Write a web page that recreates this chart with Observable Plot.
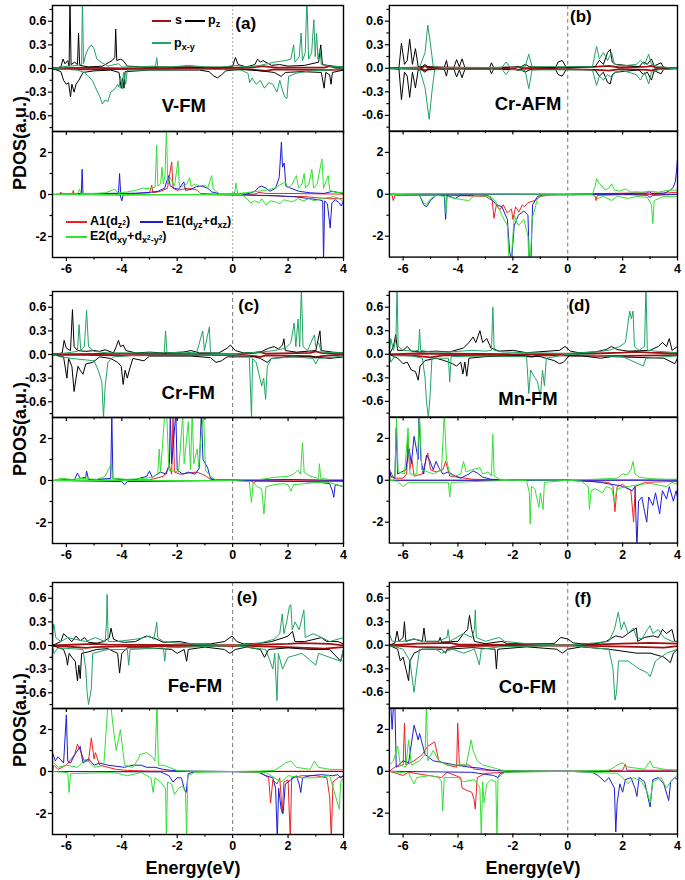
<!DOCTYPE html>
<html><head><meta charset="utf-8">
<script src="https://cdn.jsdelivr.net/npm/d3@7"></script>
<script src="https://cdn.jsdelivr.net/npm/@observablehq/plot@0.6"></script>
<style>
body{margin:0;background:#fff;font-family:"Liberation Sans",Arial,sans-serif;}
#fig{position:relative;width:685px;height:880px;overflow:hidden;background:#fff}
.sp{position:absolute;}
.sp svg{overflow:visible;}
sub{font-size:72%;vertical-align:-0.35em;line-height:0}
sup{font-size:72%;line-height:0;vertical-align:0.45em}
</style></head><body><div id="fig"></div><script>
// ---------------- data (energy, value pairs; up spin > 0, down spin < 0) ----------------
const a_s_up=[-6.5,0,-5.2,.01,-4,0,-1,.01,.6,.01,.9,.02,1.1,.03,1.3,.02,1.6,.01,3.3,.01,3.5,.03,3.7,.01,4,0];
const a_s_dn=[-6.5,0,-5.5,-.01,-1,0,.6,-.01,.9,-.02,1.2,-.03,1.5,-.01,3.4,-.02,4,-.01];
const a_pz_up=[-6.5,0,-6.2,.02,-6.12,.12,-6.05,.06,-5.95,.1,-5.9,.03,-5.87,.9,-5.83,.05,-5.7,.08,-5.6,.05,-5.56,.45,-5.52,.04,-5.2,.02,-4.7,.03,-4.35,.1,-4.25,.14,-4.22,.5,-4.18,.1,-4.05,.12,-3.95,.1,-3.8,.03,-3.2,.02,-2.5,.02,-1.5,.02,-.5,.01,0,.03,.1,.14,.2,.05,.5,.02,.8,.05,.9,.12,1,.08,1.1,.1,1.25,.07,1.4,.04,1.7,.05,2,.03,2.6,.04,3.1,.08,3.18,.3,3.24,.05,3.6,.03,4,.02];
const a_pz_dn=[-6.5,0,-6.2,-.04,-6.1,-.15,-6,-.2,-5.92,-.18,-5.85,-.36,-5.8,-.2,-5.72,-.3,-5.65,-.2,-5.55,-.15,-5.4,-.05,-5,-.03,-4.4,-.02,-4.1,-.05,-4.02,-.25,-3.97,-.12,-3.92,-.25,-3.88,-.04,-3,-.02,-1.2,-.02,-.85,-.04,-.7,-.09,-.55,-.12,-.4,-.08,-.25,-.03,.3,-.01,1,-.03,1.5,-.05,1.75,-.1,1.9,-.05,2.5,-.04,3.2,-.05,3.3,-.25,3.36,-.05,3.5,-.08,3.55,-.2,3.6,-.05,4,-.02];
const a_pxy_up=[-6.5,0,-6.2,.02,-5.6,.04,-5.45,.05,-5.42,.9,-5.38,.06,-5.3,.18,-5.2,.26,-5.1,.3,-5,.25,-4.9,.12,-4.75,.08,-4.5,.03,-4.12,.06,-4,.02,-3.5,.02,-2.78,.03,-2.74,.14,-2.7,.02,-2.2,.02,-1.6,.04,-1,.02,-.3,.02,.1,.04,.5,.02,1,.04,1.5,.08,1.9,.1,2.1,.12,2.2,.3,2.25,.08,2.4,.15,2.47,.45,2.52,.1,2.62,.2,2.68,.9,2.74,.12,2.85,.2,2.93,.62,2.98,.15,3.03,.45,3.08,.12,3.15,.25,3.2,.05,3.5,.03,4,.02];
const a_pxy_dn=[-6.5,0,-5.6,-.02,-5.35,-.05,-5.2,-.1,-5.05,-.16,-4.9,-.28,-4.8,-.35,-4.7,-.45,-4.6,-.4,-4.5,-.42,-4.4,-.3,-4.25,-.26,-4.15,-.2,-4.1,-.24,-4.05,-.1,-3.98,-.26,-3.94,-.05,-3.86,-.2,-3.8,-.02,-2.5,-.02,-1,-.01,.3,-.02,.55,-.06,.62,-.18,.7,-.12,.85,-.2,1,-.15,1.15,-.25,1.3,-.18,1.45,-.2,1.6,-.3,1.7,-.15,1.8,-.28,1.88,-.36,1.96,-.38,2.02,-.1,2.3,-.06,2.8,-.03,3.5,-.02,4,0];
const a_A1_up=[-6.5,0,-6.22,.02,-6.2,.12,-6.17,.02,-5.78,.02,-5.75,.2,-5.72,.02,-4.5,.03,-3.5,.05,-3,.08,-2.92,.45,-2.88,.08,-2.6,.15,-2.35,.3,-2.2,1.55,-2.15,.3,-2,.2,-1.8,.25,-1.6,.3,-1.4,.25,-1.27,.2,-1.15,.05,-.5,.01,.8,.02,.95,.1,1.2,.05,2,.05,3,.03,4,.02];
const a_A1_dn=[-6.5,0,-3,0,.5,-.02,1,-.05,1.6,-.06,2,-.1,2.6,-.1,3,-.15,3.5,-.2,4,-.2];
const a_E1_up=[-6.5,0,-5.6,.04,-5.46,.05,-5.43,1.2,-5.4,.05,-4.6,.05,-4.12,.06,-4.08,1,-4.04,.05,-3.5,.06,-3,.1,-2.7,.15,-2.45,.3,-2.32,.9,-2.25,.4,-2.1,.3,-1.95,.25,-1.76,.6,-1.7,.2,-1.5,.25,-1.3,.38,-1.1,.4,-.9,.3,-.75,.12,-.4,.02,.5,.02,.8,.15,.95,.35,1.05,.4,1.2,.3,1.35,.15,1.55,.3,1.68,.8,1.76,2.5,1.8,1.3,1.86,1.5,1.92,.4,2.1,.3,2.4,.15,2.8,.08,3.3,.05,3.6,.15,3.8,.1,4,.05];
const a_E1_dn=[-6.5,0,-4.06,-.02,-4,-.3,-3.95,-.02,-1,0,.8,-.03,1.5,-.06,2.2,-.1,2.8,-.2,3.1,-.25,3.25,-.3,3.28,-3.2,3.32,-.3,3.42,-.45,3.52,-1.6,3.58,-.4,3.7,-.25,3.85,-.4,3.92,-.55,4,-.3];
const a_E2_up=[-6.5,0,-5.6,.04,-5.52,.25,-5.48,.04,-4.95,.05,-4.6,.08,-4.25,.25,-4.15,.08,-3.8,.12,-3.5,.2,-3.25,.3,-3,.28,-2.8,.35,-2.74,2.35,-2.7,.4,-2.6,.5,-2.55,1.3,-2.5,.5,-2.44,.9,-2.39,3.2,-2.34,.5,-2.25,.8,-2.1,.4,-1.97,1.6,-1.92,.3,-1.8,.4,-1.65,.5,-1.55,.8,-1.5,.4,-1.35,.5,-1.2,.4,-1,.45,-.9,.3,-.76,.9,-.7,.25,-.5,.05,-.1,.02,.08,.1,.12,.55,.18,.05,.6,.1,.9,.15,1.2,.2,1.5,.3,1.7,.45,1.9,.6,2,.3,2.15,.5,2.3,.9,2.38,.3,2.5,.5,2.58,1,2.63,.3,2.75,.5,2.86,1.2,2.92,.3,3.05,.5,3.22,1.7,3.28,.3,3.45,.9,3.5,.2,3.7,.1,4,.1];
const a_E2_dn=[-6.5,0,.35,0,.55,-.25,.65,-.4,.8,-.3,.95,-.4,1.05,-.2,1.2,-.5,1.35,-.3,1.55,-.35,1.7,-.45,1.85,-.25,2,-.3,2.15,-.35,2.35,-.2,2.55,-.3,2.75,-.2,2.95,-.3,3.2,-.2,3.45,-.15,3.65,-.1,3.85,-.2,4,-.35];

const b_s_up=[-6.5,0,-5.3,.01,-5.2,.03,-5.1,.01,-2,0,-1.8,.02,-1.6,0,1.1,.02,1.5,.03,1.9,.01,2.9,.02,3.05,.03,3.2,.01,4,0];
const b_s_dn=[-6.5,0,-5.3,-.01,-5.2,-.03,-5.1,-.01,-2,0,-1.8,-.02,-1.6,0,1.1,-.02,1.5,-.03,1.9,-.01,2.9,-.02,3.05,-.03,3.2,-.01,4,0];
const b_pz_up=[-6.5,0,-6.15,.01,-6.06,.32,-5.95,.05,-5.85,.1,-5.76,.37,-5.66,.05,-5.55,.25,-5.45,.02,-5.3,.02,-5.22,.05,-5.1,.02,-4.5,.01,-4.42,.1,-4.37,.01,-4.15,.01,-4.05,.11,-3.95,.02,-3.85,.12,-3.75,.01,-2.85,.01,-2.78,.07,-2.7,.01,-1.7,.02,-1.55,.05,-1.4,.02,-.45,.01,-.35,.08,-.2,.1,-.05,.01,1,.02,1.15,.1,1.3,.05,1.45,.2,1.55,.24,1.62,.08,1.75,.05,2.6,.02,2.75,.08,2.9,.05,3.05,.12,3.15,.03,3.4,.07,3.5,.01,4,0];
const b_pz_dn=[-6.5,0,-6.15,-.01,-6.06,-.4,-5.95,-.05,-5.85,-.1,-5.76,-.37,-5.66,-.05,-5.55,-.25,-5.45,-.02,-5.3,-.02,-5.22,-.05,-5.1,-.02,-4.5,-.01,-4.42,-.1,-4.37,-.01,-4.15,-.01,-4.05,-.11,-3.95,-.02,-3.85,-.12,-3.75,-.01,-2.85,-.01,-2.78,-.07,-2.7,-.01,-1.7,-.02,-1.55,-.05,-1.4,-.02,-.45,-.01,-.35,-.08,-.2,-.1,-.05,-.01,1,-.02,1.15,-.1,1.3,-.05,1.45,-.18,1.55,-.2,1.62,-.08,1.75,-.05,2.6,-.02,2.75,-.08,2.9,-.05,3.05,-.15,3.15,-.03,3.4,-.07,3.5,-.01,4,0];
const b_pxy_up=[-6.5,0,-5.4,.01,-5.2,.2,-5.1,.55,-5,.3,-4.9,.02,-4.6,.01,-2.4,.01,-2.25,.08,-2.1,.01,-1.55,.02,-1.42,.18,-1.3,.02,.9,.02,1.05,.28,1.15,.12,1.3,.2,1.45,.1,1.6,.2,1.7,.05,2,.03,2.5,.05,2.65,.1,2.8,.05,2.95,.18,3.05,.05,3.3,.02,4,0];
const b_pxy_dn=[-6.5,0,-5.4,-.01,-5.2,-.25,-5.05,-.65,-4.95,-.3,-4.85,-.02,-4.6,-.01,-2.4,-.01,-2.25,-.08,-2.1,-.01,-1.55,-.03,-1.42,-.26,-1.3,-.02,.9,-.02,1.05,-.22,1.15,-.1,1.3,-.15,1.45,-.08,1.6,-.12,1.7,-.05,2,-.03,2.5,-.08,2.65,-.15,2.8,-.05,2.95,-.2,3.05,-.05,3.3,-.02,4,0];
const b_A1_up=[-6.5,0,-4,.02,0,0,1.5,.04,2.5,.06,3.5,.05,4,.1];
const b_A1_dn=[-6.5,0,-6.4,-.05,-6.36,-.3,-6.3,-.05,-5.8,-.05,-5,-.05,-4.3,-.05,-3,-.1,-2.75,-.3,-2.69,-1.15,-2.6,-.5,-2.48,-.75,-2.35,-.5,-2.2,-.9,-2.05,-.7,-2,-1.2,-1.9,-.6,-1.78,-.85,-1.65,-.5,-1.58,-.6,-1.45,-.4,-1.2,-.3,-1,-.1,-.5,-.02,.9,-.02,1,-.1,1.03,-.3,1.08,-.05,2,-.02,4,0];
const b_E1_up=[-6.5,0,-2,0,0,0,1,.02,2,.03,2.9,.05,2.97,.15,3.05,.03,3.5,.05,3.6,.1,3.75,.2,3.85,.35,3.92,.6,3.97,1.2,4,1.7];
const b_E1_dn=[-6.5,0,-5.4,-.05,-5.25,-.5,-5.15,-.6,-5,-.3,-4.8,-.05,-4.5,-.05,-4.45,-1.2,-4.4,-.05,-4.1,-.2,-3.9,-.05,-2.9,-.05,-2.6,-.5,-2.4,-.6,-2.2,-1.2,-2.12,-2.7,-2.05,-3.2,-1.95,-1.5,-1.8,-1,-1.6,-.8,-1.45,-1,-1.4,-3.2,-1.34,-3.2,-1.28,-.5,-1.1,-.1,-.8,-.02,2,0,2.9,-.05,3,-.15,3.1,-.05,4,0];
const b_E2_up=[-6.5,0,-4,.02,0,0,.9,.02,1,.4,1.05,.75,1.15,.5,1.25,.4,1.35,.2,1.5,.3,1.6,.5,1.7,.2,1.9,.15,2.1,.25,2.3,.1,2.5,.12,2.7,.1,3,.15,3.3,.1,3.6,.18,3.8,.2,4,.2];
const b_E2_dn=[-6.5,0,-5.4,-.05,-5.25,-.4,-5.15,-.5,-5,-.2,-4.8,-.05,-4.48,-.1,-4.44,-.9,-4.4,-.1,-4.1,-.2,-3.9,-.25,-3.6,-.3,-3.4,-.05,-2.8,-.1,-2.6,-.4,-2.4,-1,-2.2,-1.5,-2.14,-3.2,-2.06,-3.2,-1.95,-1,-1.8,-1.5,-1.6,-1.2,-1.45,-2,-1.42,-3.2,-1.36,-3.2,-1.3,-1.2,-1.1,-.2,-.9,-.05,.9,-.02,1.1,-.2,1.3,-.1,1.6,-.3,1.8,-.1,2.2,-.2,2.5,-.1,2.9,-.15,3.05,-.5,3.1,-1.4,3.15,-.3,3.5,-.1,4,-.1];

const c_s_up=[-6.5,0,-4,.01,0,0,.8,.02,1,.03,1.2,.01,2.8,.02,3,.04,3.2,.02,4,0];
const c_s_dn=[-6.5,0,-4,-.01,0,0,.8,-.02,1,-.03,1.2,-.01,2.8,-.02,3,-.04,3.2,-.02,4,0];
const c_pz_up=[-6.5,0,-6.15,.02,-6.08,.18,-6,.08,-5.85,.05,-5.78,.57,-5.72,.1,-5.6,.05,-5.3,.04,-5,.05,-4.8,.04,-4.6,.06,-4.3,.02,-4.2,.1,-4.12,.18,-4.05,.1,-3.95,.12,-3.85,.05,-3.5,.02,-3,.03,-2.5,.02,-1.8,.03,-1.5,.05,-1.2,.02,-.5,.02,-.2,.08,-.08,.12,.1,.05,.4,.02,1,.03,1.3,.08,1.5,.1,1.65,.07,1.8,.12,1.85,.2,1.9,.05,2.3,.03,3,.05,3.15,.3,3.2,.05,3.6,.03,4,.02];
const c_pz_dn=[-6.5,0,-6.1,-.03,-5.98,-.3,-5.92,-.05,-5.8,-.15,-5.72,-.47,-5.65,-.3,-5.58,-.15,-5.5,-.2,-5.4,-.25,-5.3,-.12,-5.05,-.1,-4.8,-.03,-4.4,-.05,-4.15,-.1,-4.02,-.15,-3.95,-.38,-3.88,-.2,-3.8,-.3,-3.73,-.2,-3.6,-.05,-3.2,-.08,-3,-.02,-1.5,-.02,-.8,-.04,-.6,-.1,-.4,-.08,-.2,-.03,.8,-.03,1,-.05,1.25,-.1,1.4,-.05,2,-.03,3,-.03,3.5,-.05,4,-.03];
const c_pxy_up=[-6.5,0,-6,.02,-5.6,.04,-5.54,.38,-5.48,.05,-5.35,.1,-5.27,.56,-5.2,.1,-5,.04,-4.5,.02,-3.5,.02,-2.47,.02,-2.42,.3,-2.37,.02,-1.8,.03,-1.3,.02,-1.08,.3,-1.02,.05,-.84,.35,-.8,.02,0,.01,1,.03,1.5,.05,1.9,.08,2.1,.15,2.22,.4,2.28,.1,2.36,.45,2.42,.1,2.48,.85,2.54,.1,2.7,.05,2.95,.25,3,.1,3.1,.15,3.2,.03,4,.02];
const c_pxy_dn=[-6.5,0,-6.2,-.03,-5.8,-.05,-5,-.08,-4.85,-.2,-4.72,-.35,-4.66,-.8,-4.6,-.4,-4.5,-.1,-4.3,-.03,-3.5,-.01,0,0,.6,-.02,.68,-.8,.72,-.05,.85,-.1,.95,-.25,1.05,-.4,1.12,-.3,1.19,-.57,1.25,-.15,1.4,-.05,2.2,-.03,2.9,-.05,3,-.12,3.1,-.05,4,-.02];
const c_A1_up=[-6.5,0,-6.1,.02,-6.05,.1,-6,.02,-5.5,.02,-4.5,.02,-3,.03,-2.5,.2,-2.35,.5,-2.28,.7,-2.2,.3,-2.15,3.2,-2.1,.4,-1.9,.3,-1.6,.35,-1.3,.4,-1.1,.3,-.95,.2,-.8,.05,0,.02,2,.02,4,0];
const c_A1_dn=[-6.5,0,0,0,.7,-.02,.75,-.12,.85,-.03,2,-.03,3.5,-.05,4,-.05];
const c_E1_up=[-6.5,0,-5.7,.05,-5.6,.35,-5.5,.1,-5.3,.15,-5.27,.45,-5.2,.05,-4.9,.05,-4.4,.1,-4.36,3.2,-4.32,.1,-4,.05,-3.5,.05,-3.1,.2,-3,.45,-2.9,.15,-2.6,.4,-2.4,.3,-2.28,.8,-2.25,3.2,-2.2,.8,-2.05,3.2,-2,.5,-1.8,.3,-1.6,.4,-1.35,.3,-1.2,.6,-1.13,3.2,-1.07,1,-.9,.6,-.8,.1,-.6,.02,0,.05,.4,.01,2,.05,4,0];
const c_E1_dn=[-6.5,0,-4,-.05,-3.9,-.2,-3.8,-.05,0,0,2.5,-.05,3.1,-.08,3.5,-.15,3.6,-.5,3.65,-.8,3.7,-.2,3.9,-.25,4,-.3];
const c_E2_up=[-6.5,0,-6.2,.1,-5.8,.05,-5.4,.1,-4.9,.05,-4.6,.2,-4.38,.8,-4.33,.1,-3.8,.05,-3.2,.1,-2.9,.15,-2.7,.3,-2.65,1.5,-2.6,.4,-2.45,3.2,-2.38,3.2,-2.3,.5,-1.95,.4,-1.8,3.2,-1.75,.8,-1.6,2.8,-1.52,.5,-1.46,3.2,-1.4,.8,-1.28,1.5,-1.22,.6,-1.15,2,-1.05,3.2,-.98,.5,-.8,.2,-.6,.02,1,.05,1.5,.15,2,.2,2.2,.3,2.35,.5,2.45,.3,2.52,1.8,2.58,.4,2.8,.2,3.1,.1,3.13,.8,3.18,.1,3.5,.05,4,.05];
const c_E2_dn=[-6.5,0,0,0,.6,-.05,.68,-1.05,.74,-.1,.9,-.3,1.05,-.4,1.13,-1.6,1.2,-.3,1.5,-.2,1.8,-.15,2,-.2,2.1,-.5,2.2,-.2,2.6,-.15,3,-.1,3.5,-.1,4,-.3];

const d_s_up=[-6.5,0,-5.5,.01,-2,0,1,.01,2,.02,2.5,.03,3,.02,4,.01];
const d_s_dn=[-6.5,0,-5.5,-.02,-5,-.04,-4.5,-.01,-1.6,-.02,-1.3,-.03,-1,-.01,1,-.02,2,-.02,4,-.01];
const d_pz_up=[-6.5,0,-6.35,.1,-6.27,.25,-6.2,.05,-6,.05,-5.85,.1,-5.7,.04,-5.4,.03,-4.8,.04,-4.3,.03,-3.8,.08,-3.6,.15,-3.45,.22,-3.35,.15,-3.2,.3,-3.1,.15,-2.95,.2,-2.8,.08,-2.5,.04,-2,.05,-1.5,.02,-.3,.05,-.1,.1,.1,.04,.4,.02,1,.03,1.4,.06,1.6,.1,1.8,.06,2.2,.04,3,.05,3.3,.1,3.45,.15,3.6,.1,3.7,.2,3.8,.05,4,.1];
const d_pz_dn=[-6.5,0,-6.2,-.05,-6,-.12,-5.85,-.1,-5.7,-.2,-5.55,-.22,-5.45,-.33,-5.38,-.15,-5.2,-.08,-4.8,-.05,-4.5,-.08,-4.2,-.12,-4.05,-.15,-3.9,-.1,-3.82,-.25,-3.75,-.1,-3.68,-.28,-3.6,-.05,-3,-.03,-2,-.02,-1,-.03,-.5,-.08,-.3,-.12,-.15,-.1,.05,-.02,.5,-.02,1.2,-.05,1.6,-.03,2.5,-.04,3.5,-.05,3.9,-.12,4,-.05];
const d_pxy_up=[-6.5,0,-6.45,.2,-6.35,.05,-6.26,.2,-6.22,.85,-6.18,.1,-6,.05,-5.6,.04,-5.44,.05,-5.4,.32,-5.36,.05,-5,.03,-4.3,.03,-3.5,.05,-3,.04,-2.78,.05,-2.73,.6,-2.68,.05,-2.4,.03,-1.5,.02,0,.01,1,.03,1.5,.05,1.9,.1,2.1,.15,2.26,.55,2.32,.45,2.38,.55,2.43,.1,2.6,.05,2.8,.1,2.85,.9,2.9,.05,3.2,.04,4,.02];
const d_pxy_dn=[-6.5,0,-6.45,-.1,-6.3,-.02,-5.7,-.02,-5.3,-.05,-5.2,-.3,-5.15,-.6,-5.08,-.8,-5.02,-.55,-4.95,-.05,-4.35,-.05,-4.3,-.35,-4.25,-.03,-3,-.02,-1.5,-.03,-1.42,-.5,-1.35,-.2,-1.2,-.3,-1.1,-.35,-1,-.55,-.92,-.2,-.85,-.4,-.78,-.05,0,0,2,-.03,2.75,-.15,2.85,-.05,4,-.02];
const d_A1_up=[-6.5,0,-6.45,.4,-6.35,.1,-6,.1,-5.87,.3,-5.82,2.1,-5.76,.5,-5.68,1,-5.6,.2,-5.3,.3,-5.1,1.3,-5,.5,-4.8,.4,-4.55,.5,-4.45,.9,-4.3,.2,-4,.15,-3.5,.05,-2.5,.02,0,.01,4,.02];
const d_A1_dn=[-6.5,0,0,0,.8,-.05,1.5,-.1,1.65,-.3,1.72,-1.5,1.8,-.3,2,-.2,2.3,-.5,2.4,-2,2.46,-.3,2.8,-.1,4,-.05];
const d_E1_up=[-6.5,.6,-6.45,.2,-6.3,.1,-6.25,2.5,-6.2,.3,-5.9,.5,-5.78,1.5,-5.7,.8,-5.6,2.1,-5.45,1,-5.42,3.2,-5.35,1,-5.25,.3,-5.15,1.2,-5.05,1,-4.9,.5,-4.8,.9,-4.7,.6,-4.55,.3,-4.35,.4,-4.1,.2,-3.9,.1,-3.6,.3,-3.45,.45,-3.3,.35,-3.1,.15,-2.8,.05,-2.4,.02,-1.5,0,0,0,4,0];
const d_E1_dn=[-6.5,0,0,0,.8,-.05,1.2,-.1,1.6,-.2,1.9,-.25,2,-.3,2.2,-.4,2.35,-.5,2.45,-.3,2.52,-3.2,2.58,-1,2.7,-.8,2.8,-1.5,2.88,-2,2.95,-.8,3.1,-1.2,3.2,-.6,3.35,-1.6,3.45,-.5,3.6,-.9,3.7,-.3,3.85,-1,3.95,-.5,4,-.8];
const d_E2_up=[-6.5,.1,-6.3,.2,-6.24,3,-6.18,.4,-5.95,.3,-5.82,2.5,-5.75,.3,-5.5,.3,-5.4,3.2,-5.32,.5,-5.1,.4,-4.9,.3,-4.6,.5,-4.5,3.2,-4.42,1,-4.3,.3,-4.1,.2,-3.9,.3,-3.8,.9,-3.7,.4,-3.5,.5,-3.2,.6,-3.1,.3,-2.9,.4,-2.78,.2,-2.73,2.2,-2.68,.2,-2.5,.05,-2,.02,0,0,1,.05,1.8,.1,2,.3,2.15,.25,2.3,.5,2.38,.9,2.45,.3,2.6,.15,3,.08,3.5,.05,4,.05];
const d_E2_dn=[-6.5,0,-6.2,-.05,-6,-.3,-5.8,-.1,-4.35,-.1,-4.3,-.8,-4.25,-.1,-2,0,-1.5,-.02,-1.4,-.6,-1.37,-2.1,-1.32,-.3,-1.2,-.4,-1.05,-1.3,-1,-.6,-.9,-1.4,-.85,-.1,0,0,.5,-.05,.75,-.3,.79,-1.4,.85,-.5,1,-.4,1.27,-.6,1.4,-.3,1.6,-.4,1.7,-1,1.8,-.4,2.2,-.3,2.6,-.2,3,-.15,3.6,-.3,3.8,-.1,4,-.2];

const e_s_up=[-6.5,0,-5,.02,-4.5,.01,0,0,2,.02,2.5,.03,3.5,.02,4,0];
const e_s_dn=[-6.5,0,-5.3,-.03,-5,-.02,-4,-.01,0,0,2,-.02,3.3,-.04,4,-.02];
const e_pz_up=[-6.5,0,-6.2,.05,-6.1,.15,-5.95,.1,-5.8,.05,-5.65,.12,-5.5,.06,-5.35,.1,-5.2,.04,-4.9,.03,-4.65,.05,-4.45,.1,-4.39,.22,-4.3,.08,-4.1,.05,-3.9,.04,-3.5,.05,-3.25,.1,-3.11,.12,-2.9,.1,-2.75,.08,-2.5,.04,-1.9,.05,-1.5,.02,-.8,.02,-.3,.05,-.02,.12,.15,.05,.4,.02,1,.03,1.4,.05,1.85,.1,2,.12,2.16,.18,2.25,.05,2.6,.05,3.2,.1,3.4,.05,3.8,.05,4,.02];
const e_pz_dn=[-6.5,0,-6.1,-.05,-6,-.15,-5.96,-.25,-5.9,-.1,-5.8,-.15,-5.68,-.2,-5.6,-.45,-5.55,-.25,-5.5,-.42,-5.45,-.1,-5.2,-.08,-4.9,-.05,-4.5,-.04,-4.15,-.1,-4.08,-.35,-4,-.1,-3.8,-.03,-3,-.03,-2.2,-.05,-2,-.1,-1.75,-.05,-1.66,-.2,-1.6,-.05,-1,-.02,-.3,-.05,-.1,-.1,.1,-.05,.5,-.02,1,-.05,1.15,-.15,1.3,-.05,2,-.03,2.8,-.05,3.5,-.05,3.9,-.2,4,-.05];
const e_pxy_up=[-6.5,0,-6.48,.2,-6.45,.27,-6.38,.1,-6.2,.05,-5.95,.1,-5.3,.05,-4.95,.1,-4.6,.05,-4.55,.3,-4.53,.65,-4.49,.05,-4.2,.05,-3.5,.08,-3.2,.1,-3,.12,-2.85,.08,-2.78,.2,-2.74,.3,-2.7,.1,-2.5,.05,-2,.03,-1,.01,0,0,1,.03,1.5,.08,1.7,.15,1.79,.4,1.85,.15,1.95,.3,2.05,.5,2.1,.52,2.15,.2,2.25,.3,2.4,.2,2.57,.45,2.62,.1,2.9,.15,3.1,.12,3.5,.05,4,.1];
const e_pxy_dn=[-6.5,0,-6.45,-.1,-6.3,-.03,-5.4,-.05,-5.3,-.3,-5.25,-.6,-5.2,-.75,-5.1,-.55,-5.05,-.1,-4.5,-.05,-3.8,-.05,-3.75,-.25,-3.7,-.05,-2.5,-.03,-2.45,-.2,-2.4,-.03,-1.5,-.02,0,0,1.2,-.05,1.45,-.3,1.52,-.1,1.6,-.7,1.65,-.1,1.8,-.3,2,-.15,2.5,-.1,3,-.25,3.1,-.1,3.5,-.15,3.9,-.2,4,-.05];
const e_A1_up=[-6.5,0,-6.45,.3,-6.3,.1,-6,.3,-5.7,.8,-5.6,1.3,-5.5,1,-5.35,.5,-5.2,.5,-5.1,1.6,-5,.6,-4.95,.9,-4.8,.3,-4.5,.2,-4.2,.1,-3.8,.05,-3,.02,-2,.01,0,0,4,.02];
const e_A1_dn=[-6.5,0,0,0,1,-.05,1.3,-.3,1.37,-1.5,1.45,-.4,1.6,-.6,1.7,-.3,1.79,-2,1.85,-.5,2,-.4,2.08,-3.2,2.13,-.3,2.5,-.2,3,-.2,3.4,-.3,3.5,-1.2,3.56,-3.2,3.62,-.5,3.8,-.3,4,-.2];
const e_E1_up=[-6.5,.9,-6.4,.5,-6.3,.7,-6.1,.4,-6,2.7,-5.95,.5,-5.85,.4,-5.7,.8,-5.5,1.2,-5.4,.4,-5.2,.6,-5,.3,-4.8,.4,-4.5,.3,-4.2,.25,-3.9,.2,-3.6,.3,-3.3,.3,-3.1,.2,-2.8,.2,-2.5,.1,-2.2,.05,-1.8,.02,0,0,4,0];
const e_E1_dn=[-6.5,0,-2.6,-.02,-2.3,-.2,-2.15,-.5,-2,-.3,-1.85,-.3,-1.75,-.8,-1.68,-1,-1.6,-.1,-1.3,0,.9,-.02,1.2,-.2,1.45,-.3,1.55,-.8,1.61,-3.2,1.66,-.8,1.75,-1.8,1.82,-2,1.9,-.6,2.1,-.4,2.3,-.2,2.4,-.6,2.46,-1,2.52,-.3,2.8,-.2,3.2,-.15,3.6,-.2,3.8,-.15,3.9,-.3,4,-.2];
const e_E2_up=[-6.5,.5,-6.3,.2,-6,.3,-5.6,.2,-5.3,.6,-5,.2,-4.65,.3,-4.5,3.2,-4.4,3.2,-4.3,2,-4.2,1,-4.05,2,-3.9,.3,-3.6,.2,-3.4,.6,-3.35,.8,-3.1,.9,-2.9,.7,-2.8,.5,-2.73,3.2,-2.68,.3,-2.5,.3,-2.3,.2,-2,.05,-1.5,.01,0,0,1,.02,1.5,.05,1.8,.3,1.9,.4,2.1,.5,2.3,.2,2.8,.1,2.95,.5,3.1,.2,3.5,.1,4,.1];
const e_E2_dn=[-6.5,0,-5.95,-.05,-5.9,-1,-5.85,-.1,-4.3,-.05,-3.8,-.2,-3.3,-.05,-2.95,-.3,-2.87,-1,-2.8,-.3,-2.6,-.5,-2.42,-.8,-2.39,-3.2,-2.35,-.5,-2.2,-.6,-2.1,-1.1,-1.95,-.8,-1.8,-.7,-1.7,-1,-1.66,-3.2,-1.62,-.2,-1.4,-.05,0,0,1.2,-.05,1.5,-.3,1.75,-.5,2,-.2,2.5,-.3,3,-.3,3.5,-.2,3.85,-1.8,3.9,-.5,4,-.3];

const f_s_up=[-6.5,0,-5.5,.02,-4.3,.03,-4,.01,0,0,2,.02,3,.03,4,.02];
const f_s_dn=[-6.5,0,-5.5,-.02,-4.3,-.03,-4,-.01,0,0,2.5,-.02,3.5,-.03,4,-.01];
const f_pz_up=[-6.5,0,-6.3,.03,-6.22,.18,-6.15,.05,-6,.1,-5.95,.3,-5.9,.05,-5.6,.08,-5.3,.05,-5.24,.22,-5.18,.05,-4.7,.05,-4.65,.1,-4.6,.04,-4,.05,-3.8,.15,-3.65,.2,-3.58,.38,-3.5,.2,-3.4,.05,-3,.02,-2.4,.05,-2.2,.02,-1.4,.02,-.5,.02,-.25,.1,0,.08,.2,.03,.5,.02,1,.02,1.4,.05,1.75,.12,2,.1,2.2,.15,2.5,.22,2.55,.05,2.8,.1,3.1,.12,3.3,.1,3.45,.2,3.6,.15,3.8,.2,3.9,.05,4,.05];
const f_pz_dn=[-6.5,0,-6.2,-.05,-6.1,-.2,-6,-.15,-5.9,-.3,-5.8,-.45,-5.75,-.2,-5.6,-.1,-5.3,-.05,-4.6,-.05,-4.45,-.1,-4.4,-.05,-3.5,-.03,-2.65,-.05,-2.6,-.3,-2.55,-.05,-1.5,-.02,-.4,-.05,-.2,-.1,0,-.05,.5,-.02,1.5,-.05,2.5,-.1,3,-.1,3.5,-.15,3.74,-.22,3.85,-.1,4,-.05];
const f_pxy_up=[-6.5,.15,-6.4,.05,-6,.05,-5.6,.08,-5.2,.05,-4.7,.05,-4.4,.1,-4.36,.2,-4.3,.05,-3.8,.15,-3.5,.1,-3.4,.2,-3.37,.45,-3.33,.1,-3,.05,-2.5,.1,-2.3,.05,-1.5,.02,0,0,1,.03,1.5,.05,1.7,.2,1.84,.42,1.95,.2,2.05,.3,2.2,.15,2.39,.22,2.5,.1,2.7,.08,2.9,.2,3,.25,3.1,.15,3.3,.2,3.5,.1,3.8,.05,4,.05];
const f_pxy_dn=[-6.5,0,-6,-.05,-5.75,-.2,-5.6,-.6,-5.5,-.3,-5.4,-.05,-4.8,-.05,-4.6,-.1,-4.2,-.05,-3.8,-.1,-3.4,-.05,-3.22,-.25,-3.15,-.05,-2.5,-.02,0,0,1.5,-.05,1.65,-.3,1.72,-.7,1.78,-.6,1.85,-.2,2.2,-.2,2.6,-.3,2.9,-.35,3,-.4,3.2,-.2,3.6,-.1,4,-.05];
const f_A1_up=[-6.5,0,-6.3,.2,-6,.3,-5.95,2.3,-5.9,.3,-5.6,.5,-5.3,.8,-5.1,1.2,-4.85,1.4,-4.7,.5,-4.4,.3,-4.05,.2,-4.01,2.3,-3.95,.3,-3.6,.3,-3.4,.1,-3,.05,-2,.02,0,0,2,.05,2.1,.35,2.15,.05,4,.05];
const f_A1_dn=[-6.5,0,-6,-.2,-5.8,-.05,-4.6,-.3,-4.4,-.05,-3.9,-.3,-3.85,-.8,-3.7,-.9,-3.5,-1,-3.42,-1.3,-3.37,-1.8,-3.3,-.3,-3,-.1,-2,-.02,0,0,4,0];
const f_E1_up=[-6.5,3.2,-6.45,3.2,-6.4,2,-6.35,3.2,-6.3,3.2,-6.25,.2,-6,.5,-5.8,.4,-5.6,2.2,-5.45,1.5,-5.4,1.8,-5.2,.8,-4.9,.5,-4.5,.4,-4.1,.3,-3.6,.2,-3.2,.15,-2.8,.05,-2.4,.02,0,0,4,0];
const f_E1_dn=[-6.5,0,-3.5,-.05,-2.7,-.2,-2.55,-.3,-2.45,-.1,-2.2,-.02,0,0,.9,-.05,1.1,-.2,1.35,-.5,1.5,-.3,1.7,-.8,1.75,-2.9,1.8,-1.5,1.9,-.6,2,-1,2.1,-.4,2.3,-.3,2.45,-.8,2.52,-1.2,2.6,-.3,2.8,-.5,3,-1.7,3.1,-.4,3.3,-.3,3.5,-.6,3.68,-1.4,3.75,-.5,3.9,-.3,4,-.4];
const f_E2_up=[-6.5,.3,-6.35,.5,-6.2,1.2,-6.1,.3,-5.9,.2,-5.8,1.5,-5.7,.3,-5.4,.5,-5.2,.8,-5.15,3.2,-5.1,.5,-4.9,1,-4.7,.5,-4.4,.3,-4,.3,-3.7,.3,-3.52,1.5,-3.45,1,-3.3,.5,-3.1,.3,-2.8,.2,-2.4,.05,-2,.02,0,0,1.5,.05,1.7,.2,1.8,.3,2,.4,2.2,.2,2.8,.1,3,.5,3.1,.2,3.5,.1,4,.05];
const f_E2_dn=[-6.5,0,-5.8,-.1,-5.6,-.6,-5.5,-.3,-5,-.2,-4.7,-.3,-4.6,-.5,-4.56,-1.9,-4.5,-.3,-4,-.3,-3.8,-.5,-3.4,-.4,-3.2,-.8,-3.15,-3.2,-3.1,-.5,-3.05,-1.5,-2.95,-.6,-2.8,-.4,-2.62,-.5,-2.58,-3.2,-2.54,-.3,-2.3,-.05,0,0,1.8,-.1,2,-.3,2.2,-.6,2.4,-.3,2.7,-.5,2.9,-1,3,-1.5,3.1,-.5,3.4,-.3,3.6,-.8,3.8,-.4,4,-.2];

// tick values
const xMajor=[-6,-4,-2,0,2,4], xMinor=[-5,-3,-1,1,3];
const topMajor=[-0.6,-0.3,0,0.3,0.6], topMinor=[-0.75,-0.45,-0.15,0.15,0.45,0.75];
const botMajor=[-2,0,2], botMinor=[-1,1];
const panelIds=["a","b","c","d","e","f"];
const panelNames=["V-FM","Cr-AFM","Cr-FM","Mn-FM","Fe-FM","Co-FM"];
// label anchor positions in data units [letterX, letterY, nameX, nameY]
const labelPos={a:[0.47,0.57,-1.76,-0.48],b:[0.48,0.66,-1.45,-0.45],c:[0.58,0.62,-1.6,-0.49],d:[0.42,0.62,-1.45,-0.57],e:[0.52,0.61,-1.36,-0.51],f:[0.55,0.59,-1.47,-0.53]};

// ---------------- drawing ----------------
const DATA={a:{s:[a_s_up,a_s_dn],pz:[a_pz_up,a_pz_dn],pxy:[a_pxy_up,a_pxy_dn],A1:[a_A1_up,a_A1_dn],E1:[a_E1_up,a_E1_dn],E2:[a_E2_up,a_E2_dn]},
b:{s:[b_s_up,b_s_dn],pz:[b_pz_up,b_pz_dn],pxy:[b_pxy_up,b_pxy_dn],A1:[b_A1_up,b_A1_dn],E1:[b_E1_up,b_E1_dn],E2:[b_E2_up,b_E2_dn]},
c:{s:[c_s_up,c_s_dn],pz:[c_pz_up,c_pz_dn],pxy:[c_pxy_up,c_pxy_dn],A1:[c_A1_up,c_A1_dn],E1:[c_E1_up,c_E1_dn],E2:[c_E2_up,c_E2_dn]},
d:{s:[d_s_up,d_s_dn],pz:[d_pz_up,d_pz_dn],pxy:[d_pxy_up,d_pxy_dn],A1:[d_A1_up,d_A1_dn],E1:[d_E1_up,d_E1_dn],E2:[d_E2_up,d_E2_dn]},
e:{s:[e_s_up,e_s_dn],pz:[e_pz_up,e_pz_dn],pxy:[e_pxy_up,e_pxy_dn],A1:[e_A1_up,e_A1_dn],E1:[e_E1_up,e_E1_dn],E2:[e_E2_up,e_E2_dn]},
f:{s:[f_s_up,f_s_dn],pz:[f_pz_up,f_pz_dn],pxy:[f_pxy_up,f_pxy_dn],A1:[f_A1_up,f_A1_dn],E1:[f_E1_up,f_E1_dn],E2:[f_E2_up,f_E2_dn]}};
const COL={s:"#a01010",pz:"#000000",pxy:"#1fa463",A1:"#ee2222",E1:"#1c1cd6",E2:"#33e033"};
const toPts=a=>d3.range(0,a.length,2).map(i=>({x:a[i],y:a[i+1]}));
const COLS=[{left:0,mL:52,fw:291},{left:345,mL:44,fw:289}];
const ROWS=[5,291,582], FH=126, MT=10, MB=30, MR=8;
const FONT='"Liberation Sans", Arial, sans-serif';
const fig=document.getElementById("fig");

function makeSub(idx, which){
  const id=panelIds[idx], col=idx%2, row=Math.floor(idx/2), c=COLS[col];
  const isTop=which==="top";
  const frameTop=ROWS[row]+(isTop?0:FH);
  const keys=isTop?["s","pz","pxy"]:["A1","E1","E2"];
  const marks=[];
  marks.push(Plot.ruleX([0],{stroke:id==="a"?"#aaa":"#777",strokeDasharray:id==="a"?"2,2":"4,3",strokeWidth:1}));
  for(const k of keys) for(const arr of DATA[id][k])
    marks.push(Plot.line(toPts(arr),{x:"x",y:"y",stroke:COL[k],strokeWidth:k==="s"?1.8:1,clip:true}));
  marks.push(Plot.frame({stroke:"#000",strokeWidth:1.4}));
  marks.push(Plot.axisX(xMajor,{tickSize:4,tickPadding:3,tickFormat:isTop?()=>"":d=>String(d),fontSize:12.5,fontWeight:"bold",label:null,strokeWidth:1.2}));
  marks.push(Plot.axisX(xMinor,{tickSize:2.5,tickFormat:()=>"",label:null,strokeWidth:1.2}));
  const yMaj=isTop?topMajor:botMajor, yMin=isTop?topMinor:botMinor;
  marks.push(Plot.axisY(yMaj,{tickSize:4,tickPadding:2,tickFormat:isTop?d=>d.toFixed(1):d=>String(d),fontSize:12.5,fontWeight:"bold",label:null,strokeWidth:1.2}));
  marks.push(Plot.axisY(yMin,{tickSize:2.5,tickFormat:()=>"",label:null,strokeWidth:1.2}));
  if(isTop){
    const L=labelPos[id];
    marks.push(Plot.text([`(${id})`],{x:L[0],y:L[1],text:d=>d,fontSize:17,fontWeight:"bold",fill:"#000"}));
    marks.push(Plot.text([panelNames[idx]],{x:L[2],y:L[3],text:d=>d,fontSize:18.5,fontWeight:"bold",fill:"#000"}));
  }
  const svg=Plot.plot({
    width:c.mL+c.fw+MR, height:MT+FH+MB,
    marginLeft:c.mL, marginRight:MR, marginTop:MT, marginBottom:MB,
    x:{domain:[-6.5,4]},
    y:{domain:isTop?[-0.8,0.8]:[-3,3]},
    style:{background:"transparent",fontFamily:FONT,fontWeight:"bold",fontSize:"12.5px",color:"#000",overflow:"visible"},
    marks
  });
  const div=document.createElement("div");
  div.className="sp";
  div.style.left=c.left+"px";
  div.style.top=(frameTop-MT)+"px";
  div.appendChild(svg);
  fig.appendChild(div);
}
for(let i=0;i<6;i++){ makeSub(i,"bot"); makeSub(i,"top"); }

function addHTML(html, css){ const d=document.createElement("div"); d.innerHTML=html; d.style.cssText=css; fig.appendChild(d); return d; }
// y-axis titles
for(const r of ROWS){
  addHTML("PDOS(a.u.)",`position:absolute;left:20px;top:${r+FH+12}px;transform:translate(-50%,-50%) rotate(-90deg);font:bold 18px ${FONT};white-space:nowrap;`);
}
// x-axis titles
for(const cx of [193,533]){
  addHTML("Energy(eV)",`position:absolute;left:${cx}px;top:868px;transform:translate(-50%,-50%);font:bold 18px ${FONT};white-space:nowrap;`);
}
// legends (panel a)
function swatch(x1,x2,y,color){ addHTML("",`position:absolute;left:${x1}px;top:${y-1}px;width:${x2-x1}px;height:0;border-top:2px solid ${color};`); }
function legText(x,y,html){ addHTML(html,`position:absolute;left:${x}px;top:${y}px;transform:translateY(-50%);font:bold 12.5px ${FONT};white-space:nowrap;line-height:1;`); }
swatch(152,171,21,COL.s); legText(175,20,"s");
swatch(185,205,21,COL.pz); legText(208,20,"p<sub>z</sub>");
swatch(152,171,43,COL.pxy); legText(174,43,"p<sub>x-y</sub>");
swatch(66,87,222,COL.A1); legText(90,221,"A1(d<sub>z<sup>2</sup></sub>)");
swatch(140,163,222,COL.E1); legText(166,221,"E1(d<sub>yz</sub>+d<sub>xz</sub>)");
swatch(66,87,237,COL.E2); legText(90,236,"E2(d<sub>xy</sub>+d<sub>x<sup>2</sup>-y<sup>2</sup></sub>)");
</script></body></html>
